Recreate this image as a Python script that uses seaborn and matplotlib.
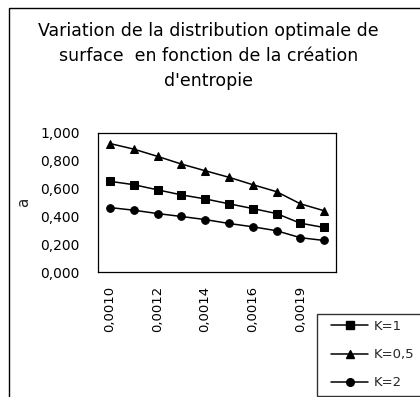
import matplotlib
matplotlib.use("Agg")
import matplotlib.pyplot as plt
from matplotlib.patches import Rectangle
from matplotlib.lines import Line2D
from matplotlib.legend_handler import HandlerLine2D
import seaborn as sns
import pandas as pd
import numpy as np

# Entropy creation categories and optimal surface distribution a
categories = ["0,0010", "0,0011", "0,0012", "0,0013", "0,0014",
              "0,0015", "0,0016", "0,0017", "0,0019", "0,0020"]
shown_labels = ["0,0010", "0,0012", "0,0014", "0,0016", "0,0019"]
k1 = [0.650, 0.626, 0.589, 0.553, 0.524, 0.489, 0.455, 0.419, 0.350, 0.319]
k05 = [0.921, 0.881, 0.829, 0.774, 0.726, 0.679, 0.626, 0.576, 0.489, 0.439]
k2 = [0.462, 0.443, 0.419, 0.398, 0.376, 0.348, 0.324, 0.296, 0.246, 0.226]
series_names = ["K=1", "K=0,5", "K=2"]
yticks = [0.0, 0.2, 0.4, 0.6, 0.8, 1.0]

sns.set_theme(style="white")
plt.rcParams["font.family"] = ["DejaVu Sans"]

rows = []
for name, vals in zip(series_names, [k1, k05, k2]):
    for i, (c, v) in enumerate(zip(categories, vals)):
        rows.append({"pos": i, "cat": c, "a": v, "serie": name})
df = pd.DataFrame(rows)

W, H = 420, 397
fig = plt.figure(figsize=(W / 100, H / 100), dpi=100)
fig.patch.set_facecolor("white")

# Chart area border (runs off the right and bottom edges)
fig.add_artist(Rectangle((9 / W, -0.5), 2.0, 1.5 - 8 / H, transform=fig.transFigure,
                         fill=False, edgecolor="black", linewidth=1.0))

ax = fig.add_axes([98 / W, 1 - 272 / H, (336 - 98) / W, (272 - 132.5) / H])
markers = {"K=1": "s", "K=0,5": "^", "K=2": "o"}
sns.lineplot(data=df, x="pos", y="a", style="serie", style_order=series_names,
             markers=markers, dashes=False, color="black", linewidth=1.1,
             markersize=5.5, markeredgecolor="black", ax=ax, legend=False)

ax.set_xlim(-0.5, len(categories) - 0.5)
ax.set_ylim(0, 1.0)
ax.set_yticks(yticks)
ax.set_yticklabels([f"{t:.3f}".replace(".", ",") for t in yticks], fontsize=10)
ax.set_xticks([categories.index(l) for l in shown_labels])
ax.set_xticklabels(shown_labels, rotation=90, fontsize=9.5)
ax.set_xticks(np.arange(-0.5, len(categories), 1.0), minor=True)
ax.tick_params(axis="x", which="major", length=0, pad=10)
ax.tick_params(axis="x", which="minor", length=5, width=0.9, color="black", direction="out")
ax.tick_params(axis="y", which="major", length=5, width=0.9, color="black",
               direction="out", pad=8)
ax.tick_params(colors="black")
for s in ax.spines.values():
    s.set_color("black")
    s.set_linewidth(0.9)
ax.set_xlabel("")
ax.set_ylabel("a", fontsize=11)
ax.yaxis.set_label_coords(-67 / (336 - 98), 0.5)

fig.text(208.5 / W, 1 - 56 / H,
         "Variation de la distribution optimale de\nsurface  en fonction de la création\nd'entropie",
         ha="center", va="center", fontsize=12.5, linespacing=1.5, color="black")

handles = [Line2D([], [], color="black", linewidth=1.1, marker=markers[n],
                  markersize=5.5) for n in series_names]
leg = fig.legend(handles, series_names, loc="upper left",
                 bbox_to_anchor=(317 / W, 1 - 313.5 / H, 0.3, 0), mode="expand",
                 fontsize=9.5, frameon=True, fancybox=False, handlelength=3.4,
                 labelspacing=1.15, borderpad=0.5, borderaxespad=0,
                 handletextpad=0.38,
                 handler_map={Line2D: HandlerLine2D(xpad=0.53)})
leg.get_frame().set_edgecolor("black")
leg.get_frame().set_linewidth(1.0)

fig.savefig("out.png", dpi=100, facecolor="white")
